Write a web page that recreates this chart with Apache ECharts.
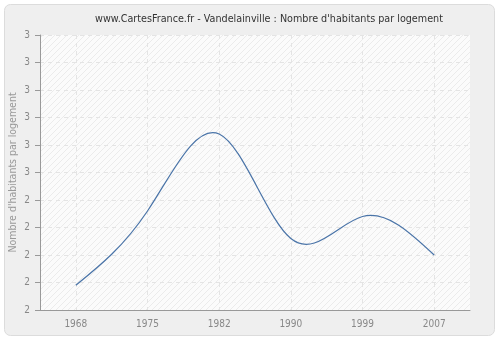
<!DOCTYPE html>
<html>
<head>
<meta charset="utf-8">
<script src="https://cdn.jsdelivr.net/npm/echarts@6/dist/echarts.min.js"></script>
<style>
html,body{margin:0;padding:0;background:#ffffff;}
#chart{width:500px;height:340px;}
</style>
</head>
<body>
<div id="chart"></div>
<script>
const years = ['1968', '1975', '1982', '1990', '1999', '2007'];
const values = [2.09, 2.36, 2.64, 2.26, 2.34, 2.20];
const titleText = "www.CartesFrance.fr - Vandelainville : Nombre d'habitants par logement";
const yAxisName = "Nombre d'habitants par logement";

const FONT = "'DejaVu Sans Condensed', 'DejaVu Sans', sans-serif";

// hatch pattern for plot background
const pc = document.createElement('canvas');
pc.width = 6; pc.height = 6;
const ctx = pc.getContext('2d');
ctx.fillStyle = '#fbfbfb';
ctx.fillRect(0, 0, 6, 6);
ctx.strokeStyle = '#ebebeb';
ctx.lineWidth = 1;
ctx.beginPath();
ctx.moveTo(-1, 7); ctx.lineTo(7, -1);
ctx.moveTo(-1, 1); ctx.lineTo(1, -1);
ctx.moveTo(5, 7); ctx.lineTo(7, 5);
ctx.stroke();

// natural cubic spline through pixel points -> bezier path
function naturalSplinePath(pts) {
  const n = pts.length;
  if (n < 2) return '';
  const h = [], d = [];
  for (let i = 0; i < n - 1; i++) {
    h.push(pts[i + 1][0] - pts[i][0]);
    d.push((pts[i + 1][1] - pts[i][1]) / h[i]);
  }
  const M = new Array(n).fill(0);
  if (n > 2) {
    const a = [], b = [], c = [], r = [];
    for (let i = 1; i < n - 1; i++) {
      a.push(h[i - 1]); b.push(2 * (h[i - 1] + h[i])); c.push(h[i]);
      r.push(6 * (d[i] - d[i - 1]));
    }
    const m = b.length;
    const cp = new Array(m), rp = new Array(m);
    cp[0] = c[0] / b[0]; rp[0] = r[0] / b[0];
    for (let i = 1; i < m; i++) {
      const den = b[i] - a[i] * cp[i - 1];
      cp[i] = c[i] / den;
      rp[i] = (r[i] - a[i] * rp[i - 1]) / den;
    }
    const sol = new Array(m);
    sol[m - 1] = rp[m - 1];
    for (let i = m - 2; i >= 0; i--) sol[i] = rp[i] - cp[i] * sol[i + 1];
    for (let i = 0; i < m; i++) M[i + 1] = sol[i];
  }
  let path = 'M' + pts[0][0] + ' ' + pts[0][1];
  for (let i = 0; i < n - 1; i++) {
    const m0 = d[i] - h[i] * (2 * M[i] + M[i + 1]) / 6;
    const m1 = d[i] + h[i] * (M[i] + 2 * M[i + 1]) / 6;
    const x0 = pts[i][0], y0 = pts[i][1], x1 = pts[i + 1][0], y1 = pts[i + 1][1];
    path += ' C' + (x0 + h[i] / 3) + ' ' + (y0 + m0 * h[i] / 3) + ' ' +
      (x1 - h[i] / 3) + ' ' + (y1 - m1 * h[i] / 3) + ' ' + x1 + ' ' + y1;
  }
  return path;
}

const chart = echarts.init(document.getElementById('chart'), null, {renderer: 'canvas'});
chart.setOption({
  animation: false,
  backgroundColor: '#ffffff',
  graphic: [{
    type: 'rect',
    z: -10,
    silent: true,
    shape: {x: 4.5, y: 4.5, width: 490, height: 331, r: 6},
    style: {fill: '#efefef', stroke: '#dcdcdc', lineWidth: 1}
  }],
  title: {
    text: titleText,
    left: 264,
    top: 9,
    textAlign: 'center',
    textStyle: {fontFamily: FONT, fontSize: 10.7, fontWeight: 'normal', color: '#333333'}
  },
  grid: {
    left: 40, right: 30, top: 35, bottom: 30,
    outerBoundsMode: 'none',
    containLabel: false,
    show: true,
    borderWidth: 0,
    backgroundColor: {image: pc, repeat: 'repeat'}
  },
  xAxis: {
    type: 'category',
    data: years,
    boundaryGap: true,
    axisLine: {lineStyle: {color: '#999999', width: 1}},
    axisTick: {alignWithLabel: true, length: 5, lineStyle: {color: '#999999'}},
    axisLabel: {color: '#888888', fontFamily: FONT, fontSize: 10, margin: 9},
    splitLine: {show: true, alignWithLabel: true, lineStyle: {color: '#e4e4e4', type: [4, 4], width: 1}}
  },
  yAxis: {
    type: 'value',
    min: 2, max: 3, interval: 0.1,
    name: yAxisName,
    nameLocation: 'middle',
    nameGap: 26.5,
    nameMoveOverlap: false,
    nameTextStyle: {color: '#999999', fontFamily: FONT, fontSize: 10.5, verticalAlign: 'middle'},
    axisLine: {show: true, lineStyle: {color: '#999999', width: 1}},
    axisTick: {show: true, length: 5, lineStyle: {color: '#999999'}},
    axisLabel: {color: '#888888', fontFamily: FONT, fontSize: 10, margin: 10,
      formatter: function (v) { return String(Math.round(v)); }},
    splitLine: {show: true, lineStyle: {color: '#e4e4e4', type: [4, 4], width: 1}}
  },
  series: [{
    type: 'custom',
    data: values.map(function (v, i) { return [i, v]; }),
    encode: {x: 0, y: 1},
    renderItem: function (params, api) {
      if (params.dataIndex !== 0) return null;
      const pts = values.map(function (v, i) { return api.coord([i, v]); });
      return {
        type: 'path',
        shape: {pathData: naturalSplinePath(pts)},
        style: {fill: null, stroke: '#4a74a8', lineWidth: 1.2}
      };
    }
  }]
});
</script>
</body>
</html>
